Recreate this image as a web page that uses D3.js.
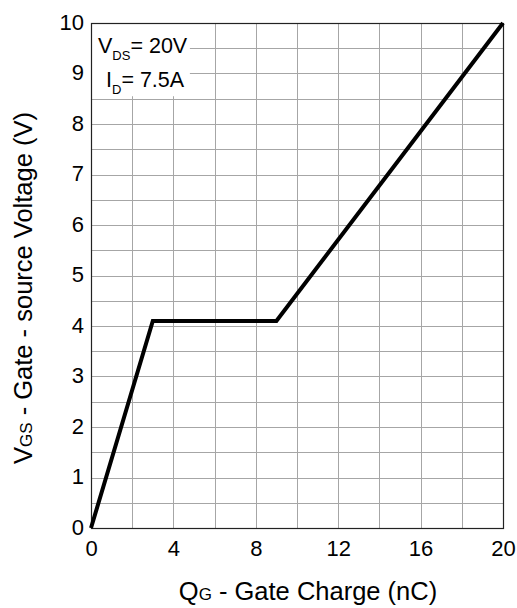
<!DOCTYPE html>
<html><head><meta charset="utf-8">
<script src="https://cdn.jsdelivr.net/npm/d3@7"></script>
<style>body{margin:0;background:#fff}svg{display:block}text{font-family:"Liberation Sans",Arial,sans-serif;fill:#000}</style>
</head><body>
<svg id="c" width="517" height="608"></svg>
<script>
const gateCharge = [0, 3, 9, 20];
const gateVoltage = [0, 4.1, 4.1, 10];
const xTickValues = [0, 4, 8, 12, 16, 20];
const yTickValues = [0, 1, 2, 3, 4, 5, 6, 7, 8, 9, 10];
const xGridValues = d3.range(0, 20.01, 2);
const yGridValues = d3.range(0, 10.01, 0.5);

const L = 91, R = 503, T = 23, B = 528;
const svg = d3.select("#c");
const x = d3.scaleLinear().domain([0, 20]).range([L, R]);
const y = d3.scaleLinear().domain([0, 10]).range([B, T]);

const grid = svg.append("g").attr("stroke", "#a6a6a6").attr("stroke-width", 1);
grid.selectAll(".vx").data(xGridValues).join("line")
  .attr("x1", d => Math.round(x(d)) + 0.5).attr("x2", d => Math.round(x(d)) + 0.5)
  .attr("y1", T).attr("y2", B);
grid.selectAll(".hy").data(yGridValues).join("line")
  .attr("y1", d => Math.round(y(d)) + 0.5).attr("y2", d => Math.round(y(d)) + 0.5)
  .attr("x1", L).attr("x2", R);

// annotation background
svg.append("rect").attr("x", L).attr("y", T).attr("width", x(4.8) - L).attr("height", y(8.55) - T).attr("fill", "#fff");

// frame
svg.append("rect").attr("x", L + 0.5).attr("y", T + 0.5).attr("width", R - L).attr("height", B - T)
  .attr("fill", "none").attr("stroke", "#222").attr("stroke-width", 1.2);

// axes labels
const xAxis = d3.axisBottom(x).tickValues(xTickValues).tickSize(0).tickPadding(12).tickFormat(d3.format("d"));
const gx = svg.append("g").attr("transform", `translate(0,${B})`).call(xAxis);
gx.select(".domain").remove();
gx.selectAll("text").attr("font-size", 22).attr("font-family", "Liberation Sans, Arial, sans-serif").attr("fill", "#000");

const yAxis = d3.axisLeft(y).tickValues(yTickValues).tickSize(0).tickPadding(7).tickFormat(d3.format("d"));
const gy = svg.append("g").attr("transform", `translate(${L},0)`).call(yAxis);
gy.select(".domain").remove();
gy.selectAll("text").attr("font-size", 22).attr("dy", "0.28em").attr("font-family", "Liberation Sans, Arial, sans-serif").attr("fill", "#000");

// curve
const line = d3.line().x((d, i) => x(gateCharge[i])).y((d, i) => y(gateVoltage[i]));
svg.append("path").datum(gateCharge).attr("d", line).attr("fill", "none")
  .attr("stroke", "#000").attr("stroke-width", 4).attr("stroke-linejoin", "miter");

// annotation text
const a1 = svg.append("text").attr("x", 98).attr("y", 53).attr("font-size", 21.5);
a1.append("tspan").text("V");
a1.append("tspan").attr("font-size", 13).attr("dy", 7).text("DS");
a1.append("tspan").attr("dy", -7).text("= 20V");
const a2 = svg.append("text").attr("x", 106).attr("y", 87).attr("font-size", 21.5);
a2.append("tspan").text("I");
a2.append("tspan").attr("font-size", 13).attr("dy", 7).text("D");
a2.append("tspan").attr("dy", -7).text("= 7.5A");

// x title
const xt = svg.append("text").attr("x", 308).attr("y", 600).attr("text-anchor", "middle").attr("font-size", 25.5);
xt.append("tspan").text("Q");
xt.append("tspan").attr("font-size", 17).text("G");
xt.append("tspan").text(" - Gate Charge (nC)");

// y title
const yt = svg.append("text").attr("transform", "translate(32,288) rotate(-90)").attr("text-anchor", "middle").attr("font-size", 25.5);
yt.append("tspan").text("V");
yt.append("tspan").attr("font-size", 17).text("GS");
yt.append("tspan").text(" - Gate - source Voltage (V)");
</script>
</body></html>
